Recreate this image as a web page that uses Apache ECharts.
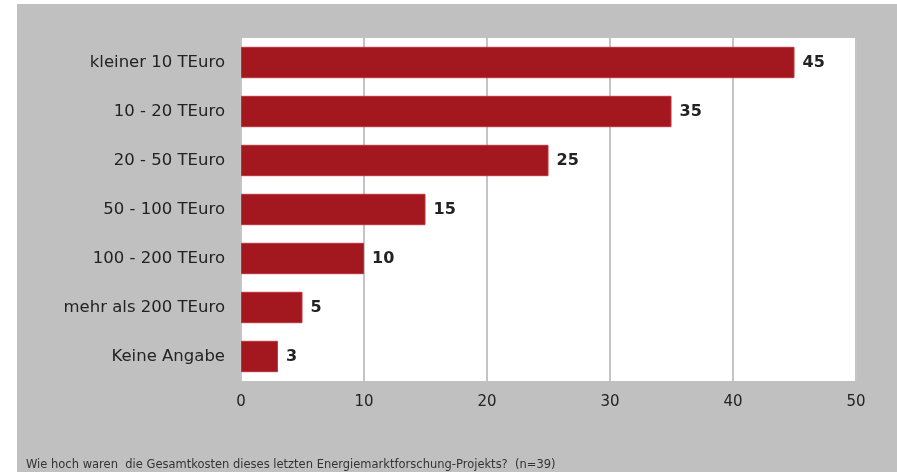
<!DOCTYPE html>
<html>
<head>
<meta charset="utf-8">
<script src="https://cdn.jsdelivr.net/npm/echarts@6/dist/echarts.min.js"></script>
<style>
  html, body { margin: 0; padding: 0; background: #fff; }
  #chart { position: absolute; left: 17px; top: 4px; width: 880px; height: 468px; background: #c0c0c0; }
</style>
</head>
<body>
<div id="chart"></div>
<script>
var categories = ['kleiner 10 TEuro', '10 - 20 TEuro', '20 - 50 TEuro', '50 - 100 TEuro', '100 - 200 TEuro', 'mehr als 200 TEuro', 'Keine Angabe'];
var values = [45, 35, 25, 15, 10, 5, 3];
var xTicks = [0, 10, 20, 30, 40, 50];
var footnote = 'Wie hoch waren  die Gesamtkosten dieses letzten Energiemarktforschung-Projekts?  (n=39)';

var font = 'DejaVu Sans, Liberation Sans, Arial, sans-serif';
var myChart = echarts.init(document.getElementById('chart'));
var option = {
  animation: false,
  textStyle: { fontFamily: font },
  grid: {
    left: 224, right: 41, top: 34, bottom: 91,
    show: true, backgroundColor: '#ffffff', borderWidth: 0
  },
  xAxis: {
    type: 'value',
    min: xTicks[0], max: xTicks[xTicks.length - 1], interval: 10,
    axisLine: { show: false },
    axisTick: { show: false },
    axisLabel: { color: '#222', fontSize: 15, margin: 14 },
    splitLine: { show: true, lineStyle: { color: '#c4c4c4', width: 2 } }
  },
  yAxis: {
    type: 'category',
    data: categories,
    inverse: true,
    axisLine: { show: false },
    axisTick: { show: false },
    axisLabel: { color: '#222', fontSize: 16.5, margin: 16 }
  },
  series: [{
    type: 'bar',
    data: values,
    barWidth: '64%',
    itemStyle: { color: '#a3171f', borderColor: '#c0303a', borderWidth: 1 },
    label: { show: true, position: 'right', distance: 8, color: '#222', fontSize: 16, fontWeight: 'bold' }
  }],
  graphic: [{
    type: 'text', left: 9, top: 455,
    style: { text: footnote, fill: '#333', font: '11.5px ' + font }
  }]
};
myChart.setOption(option);
</script>
</body>
</html>
